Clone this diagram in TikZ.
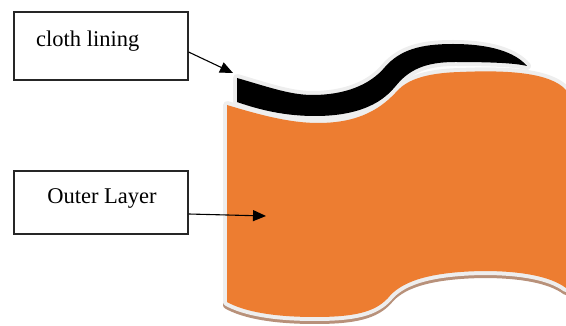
\documentclass[tikz,border=0pt]{standalone}
\usepackage{fontspec}
\setmainfont{Liberation Serif}
\usetikzlibrary{arrows.meta,calc}
\definecolor{bodyorange}{HTML}{ED7D31}
\definecolor{rimwhite}{HTML}{EEEEEE}
\definecolor{shadowbrown}{HTML}{B8917A}
\tikzset{
  labelbox/.style={draw=black!85, line width=1.1pt, minimum width=174pt, inner sep=0pt},
  labeltext/.style={font=\fontsize{22.5}{27}\selectfont, inner sep=0pt},
  pointer/.style={draw=black, line width=1.1pt, -{Triangle[length=13pt,width=11pt]}},
  rimmed/.style={preaction={draw=rimwhite, line width=8pt, line join=round}}
}
\begin{document}
\begin{tikzpicture}[x=1pt,y=-1pt]
  \useasboundingbox (0,0) rectangle (566,326);

  % outline of the outer layer, reused for its shadow
  \def\outerlayer{
    (227,105) .. controls (260,115) and (290,123) .. (318,123)
    .. controls (360,123) and (382,108) .. (398,90)
    .. controls (408,80) and (425,73) .. (460,72)
    .. controls (505,70) and (550,72) .. (566,90)
    -- (566,288)
    .. controls (550,276) and (520,271) .. (483,271)
    .. controls (425,272) and (400,283) .. (388,298)
    .. controls (375,312) and (355,317) .. (315,317)
    .. controls (275,317) and (245,312) .. (227,302) -- cycle}

  % drop shadow under the outer layer
  \filldraw[fill=shadowbrown, draw=shadowbrown, line width=8pt, line join=round,
            shift={(0,3)}] \outerlayer;

  % cloth lining strip
  \fill[black, rimmed]
    (237,78) .. controls (265,86) and (290,95) .. (312,95)
    .. controls (345,95) and (370,85) .. (385,67)
    .. controls (400,50) and (420,44) .. (453,44)
    .. controls (490,44) and (515,52) .. (527,66)
    .. controls (515,63) and (490,62) .. (455,62)
    .. controls (425,62) and (408,70) .. (395,87)
    .. controls (380,105) and (355,116) .. (315,116)
    .. controls (285,116) and (260,110) .. (237,102) -- cycle;

  % outer layer
  \fill[bodyorange, rimmed] \outerlayer;

  % label boxes
  \node[labelbox, minimum height=68pt] (cl) at (101,46) {};
  \node[labeltext, anchor=west] (cltext) at (36,41) {cloth lining};
  \node[labelbox, minimum height=63pt] (ol) at (101,202.5) {};
  \node[labeltext] (oltext) at (102,198) {Outer Layer};

  % pointers
  \coordinate (cltip) at (233,73);
  \coordinate (oltip) at (266,216);
  \draw[pointer] ([yshift=-6pt]cl.east) -- (cltip);
  \draw[pointer] ([yshift=-11.5pt]ol.east) -- (oltip);
\end{tikzpicture}
\end{document}
